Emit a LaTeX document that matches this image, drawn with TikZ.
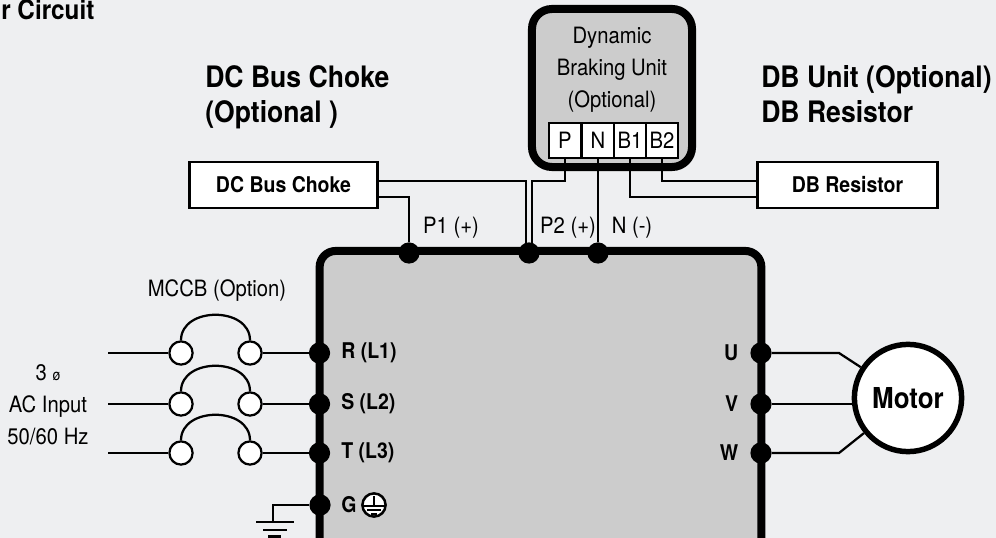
\documentclass[tikz,border=0pt]{standalone}
\usepackage{fontspec}
\setmainfont[FakeStretch=0.9]{TeX Gyre Heros}
\usetikzlibrary{calc}
\definecolor{pagegray}{HTML}{EEEFF1}
\definecolor{boxgray}{HTML}{CCCCCC}
\newcommand{\fsthin}{\fontsize{16}{22.7}\selectfont}
\newcommand{\fsbold}{\fontsize{15.4}{22}\selectfont\bfseries}
\newcommand{\fshead}{\fontsize{21}{25}\selectfont\bfseries}
\tikzset{
    wire/.style={line width=1.6pt},
    thinlabel/.style={font=\fsthin, inner sep=0pt, align=center},
    boldlabel/.style={font=\fsbold, inner sep=0pt},
    headlabel/.style={font=\fshead, inner sep=0pt, align=left, anchor=west},
    optbox/.style={draw, line width=1.7pt, fill=white, font=\fsbold, minimum width=4.5cm, minimum height=1.15cm, inner sep=0pt},
    termbox/.style={draw, line width=1.2pt, fill=white, font=\fsthin, minimum width=0.8125cm, minimum height=0.875cm, inner sep=0pt},
    busdot/.style={circle, fill=black, minimum size=0.53cm, inner sep=0pt},
    contact/.style={circle, draw, line width=1.6pt, fill=white, minimum size=0.58cm, inner sep=0pt},
}

\begin{document}
\begin{tikzpicture}[x=0.025cm, y=-0.025cm]
    \clip (0,0) rectangle (996,538);
    \fill[pagegray] (0,0) rectangle (996,538);

    \node[draw, line width=5.7pt, rounded corners=0.4cm, fill=boxgray, minimum width=11.04cm, minimum height=9cm] (drive) at (540.5,431) {};
    \node[draw, line width=5.7pt, rounded corners=0.5cm, fill=boxgray, minimum width=4cm, minimum height=3.95cm] (dbu) at (612,88) {};

    \node[thinlabel] (dbutitle) at (612,70) {Dynamic\\Braking Unit\\(Optional)};
    \node[termbox] (termP) at (565,140.5) {P};
    \node[termbox] (termN) at (598,140.5) {N};
    \node[termbox] (termBa) at (630,140.5) {B1};
    \node[termbox] (termBb) at (662,140.5) {B2};

    \node[optbox, minimum width=4.7cm] (choke) at (283.5,185) {DC Bus Choke};
    \node[optbox] (resistor) at (847.5,185) {DB Resistor};

    \node[anchor=base west, font=\fontsize{19.2}{25}\selectfont\bfseries, inner sep=0pt] (title) at (1,19.5) {r Circuit};
    \node[headlabel] (chokehead) at (205,98) {\begin{tabular}{@{}l@{}}DC Bus Choke\\(Optional )\end{tabular}};
    \node[headlabel] (reshead) at (761,98) {\begin{tabular}{@{}l@{}}DB Unit (Optional)\\DB Resistor\end{tabular}};

    \node[busdot] (dotPa) at (409,253) {};
    \node[busdot] (dotPb) at (529,253) {};
    \node[busdot] (dotN) at (598,253) {};
    \coordinate (chokeTop) at (377,181);
    \coordinate (chokeLow) at (377,197);
    \coordinate (resTop) at (758,181);
    \coordinate (resLow) at (758,197);
    \coordinate (pbLeft) at (526,250);
    \coordinate (pbRight) at (532,250);

    \draw[wire] (chokeTop) -| (pbLeft);
    \draw[wire] (chokeLow) -| (dotPa);
    \draw[wire] (termP.south) |- (532,181) -- (pbRight);
    \draw[wire] (termN.south) -- (dotN);
    \draw[wire] (termBa.south) |- (resLow);
    \draw[wire] (termBb.south) |- (resTop);

    \node[thinlabel] (labPa) at (451,228) {P1 (+)};
    \node[thinlabel] (labPb) at (568,228) {P2 (+)};
    \node[thinlabel] (labN) at (632,228) {N (-)};

    \node[thinlabel] (mccb) at (217,291) {MCCB (Option)};
    \node[thinlabel] (acinput) at (48,405) {3 {\fontsize{11}{12}\selectfont ø}\\AC Input\\50/60 Hz};

    \foreach \nam/\yy/\lab in {R/353/R (L1),S/404/S (L2),T/453/T (L3)} {
        \coordinate (in\nam) at (108,\yy);
        \node[busdot] (dot\nam) at (319.5,\yy) {};
        \node[contact] (left\nam) at (181,\yy) {};
        \node[contact] (right\nam) at (250,\yy) {};
        \node[boldlabel, anchor=west] (lab\nam) at (341,\yy) {\lab};
        \draw[wire] (in\nam) -- (left\nam);
        \draw[wire] (right\nam) -- (dot\nam);
        \draw[wire] (left\nam.north) .. controls +(0,-34) and +(0,-34) .. (right\nam.north);
    }

    \node[busdot] (dotG) at (320,505) {};
    \node[boldlabel, anchor=west] (labG) at (341,505) {G};
    \node[circle, draw, line width=1.8pt, fill=white, minimum size=0.58cm, inner sep=0pt] (gsym) at (374,505) {};
    \draw[wire] ($(gsym.center)+(0,-9)$) -- ($(gsym.center)+(0,1)$);
    \draw[wire] ($(gsym.center)+(-11,1)$) -- ($(gsym.center)+(11,1)$);
    \draw[wire] ($(gsym.center)+(-7,5)$) -- ($(gsym.center)+(7,5)$);
    \draw[wire] ($(gsym.center)+(-3,9)$) -- ($(gsym.center)+(3,9)$);

    \coordinate (gndTop) at (273,522);
    \draw[wire] (dotG) -| (gndTop);
    \draw[wire] (256,522) -- (294,522);
    \draw[wire] (263,530) -- (287,530);
    \draw[line width=2.4pt] (268,537) -- (281,537);

    \node[circle, draw, line width=3.9pt, fill=white, minimum size=2.68cm, inner sep=0pt, font=\fontsize{20.5}{22}\selectfont\bfseries] (motor) at (908,398) {\raisebox{-1.4pt}{Motor}};
    \coordinate (bendU) at (839,353);
    \coordinate (bendW) at (839,453);
    \foreach \nam/\yy/\lab in {U/353/U,V/404/V,W/453/W} {
        \node[busdot] (dot\nam) at (761,\yy) {};
        \node[boldlabel, anchor=east] (lab\nam) at (738.5,\yy) {\lab};
    }
    \draw[wire] (dotU) -- (bendU) -- (motor);
    \draw[wire] (dotV) -- (dotV -| motor.west);
    \draw[wire] (dotW) -- (bendW) -- (motor);
\end{tikzpicture}
\end{document}
